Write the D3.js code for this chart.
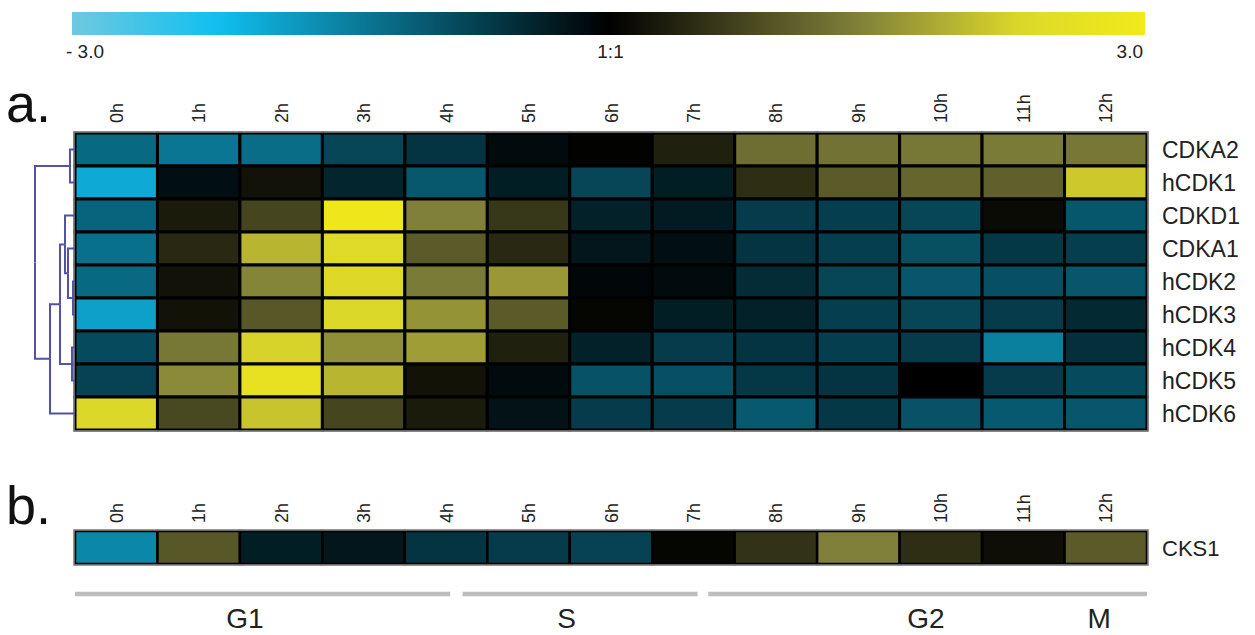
<!DOCTYPE html>
<html>
<head>
<meta charset="utf-8">
<script src="https://cdn.jsdelivr.net/npm/d3@7"></script>
<style>
  html, body { margin: 0; padding: 0; background: #fff; }
  svg { display: block; font-family: "Liberation Sans", Arial, sans-serif; }
</style>
</head>
<body>
<svg id="chart" width="1255" height="635"></svg>
<script>
// Time points (columns) and genes (rows)
const hours = ["0h","1h","2h","3h","4h","5h","6h","7h","8h","9h","10h","11h","12h"];
const genes = ["CDKA2","hCDK1","CDKD1","CDKA1","hCDK2","hCDK3","hCDK4","hCDK5","hCDK6"];

// log-ratio expression per gene, one value per time point
const CDKA2 = [-1.2,-1.35,-1.25,-0.8,-0.6,-0.13,0.02,0.35,1.2,1.25,1.3,1.35,1.3];
const hCDK1 = [-1.95,-0.17,0.2,-0.42,-1.0,-0.34,-0.8,-0.34,0.5,1.0,1.1,1.05,2.15];
const CDKD1 = [-1.15,0.3,0.75,2.9,1.4,0.6,-0.38,-0.3,-0.68,-0.72,-0.8,0.12,-0.98];
const CDKA1 = [-1.28,0.45,1.95,2.4,1.0,0.45,-0.25,-0.17,-0.6,-0.72,-0.9,-0.64,-0.72];
const hCDK2 = [-1.2,0.2,1.45,2.35,1.35,1.65,-0.08,-0.13,-0.5,-0.8,-0.98,-0.9,-0.98];
const hCDK3 = [-1.85,0.2,0.95,2.3,1.6,1.0,0.05,-0.34,-0.38,-0.72,-0.8,-0.68,-0.47];
const hCDK4 = [-0.85,1.3,2.25,1.55,1.7,0.35,-0.38,-0.68,-0.6,-0.72,-0.68,-1.45,-0.55];
const hCDK5 = [-0.76,1.5,2.65,1.95,0.2,-0.13,-0.94,-0.9,-0.64,-0.6,0.0,-0.68,-0.85];
const hCDK6 = [2.3,0.8,2.1,0.75,0.3,-0.21,-0.68,-0.68,-1.02,-0.64,-0.94,-1.02,-0.98];
const seriesA = [CDKA2,hCDK1,CDKD1,CDKA1,hCDK2,hCDK3,hCDK4,hCDK5,hCDK6];

// panel b
const geneB = ["CKS1"];
const CKS1 = [-1.55,0.95,-0.34,-0.25,-0.6,-0.68,-0.76,0.05,0.55,1.4,0.5,0.15,1.0];

// color bar tick labels
const legendTicks = [{v:-3, t:"- 3.0"},{v:0, t:"1:1"},{v:3, t:"3.0"}];

// gene clustering tree (h = linkage distance)
const tree = {h:1.0, children:[
  {h:0.125, children:[{name:"CDKA2"},{name:"hCDK1"}]},
  {h:0.625, children:[
    {h:0.375, children:[
      {h:0.25, children:[
        {name:"CDKD1"},
        {h:0.175, children:[{name:"CDKA1"},{h:0.05, children:[{name:"hCDK2"},{name:"hCDK3"}]}]}
      ]},
      {h:0.075, children:[{name:"hCDK4"},{name:"hCDK5"}]}
    ]},
    {name:"hCDK6"}
  ]}
]};

// cell-cycle phases in column units
const phases = [{s:0, e:4.55}, {s:4.7, e:7.55}, {s:7.68, e:13}];
const phaseLabels = [{p:2.06, t:"G1"},{p:5.96, t:"S"},{p:10.32, t:"G2"},{p:12.42, t:"M"}];

const svg = d3.select("#chart");

const color = d3.scaleLinear()
  .domain([-3, -2.2, 0, 1.4, 2.3, 3])
  .range(["#70c8e0","#10c0f0","#000000","#80803a","#dcd82a","#f2ea1a"])
  .clamp(true);

const x = d3.scaleBand().domain(hours).range([75, 1147]).padding(0);
const xu = d3.scaleLinear().domain([0, 13]).range([75, 1147]);
const y = d3.scaleBand().domain(genes).range([133, 430]).padding(0);

// ---- color bar ----
const lx = d3.scaleLinear().domain([-3, 3]).range([72, 1145]);
const defs = svg.append("defs");
const grad = defs.append("linearGradient").attr("id","cbar").attr("x1","0%").attr("x2","100%");
d3.range(0, 1.0001, 0.02).forEach(t => {
  grad.append("stop").attr("offset", (t*100)+"%").attr("stop-color", color(-3 + 6*t));
});
svg.append("rect").attr("x", lx(-3)).attr("y", 12).attr("width", lx(3)-lx(-3)).attr("height", 23)
  .attr("fill","url(#cbar)");
svg.selectAll(".ltick").data(legendTicks).join("text")
  .attr("x", d => d.v === -3 ? 66 : d.v === 3 ? 1143 : lx(d.v) + 2)
  .attr("y", 58)
  .attr("text-anchor", d => d.v === -3 ? "start" : d.v === 3 ? "end" : "middle")
  .attr("font-size", 19).attr("fill", "#222")
  .text(d => d.t);

// ---- panel letters ----
svg.append("text").attr("x", 6).attr("y", 122).attr("font-size", 54).attr("fill","#111").text("a.");
svg.append("text").attr("x", 6).attr("y", 524).attr("font-size", 54).attr("fill","#111").text("b.");

// ---- column labels ----
function colLabels(yBase) {
  svg.append("g").selectAll("text").data(hours).join("text")
    .attr("transform", d => `translate(${x(d) + x.bandwidth()/2 + 6.5},${yBase}) rotate(-90)`)
    .attr("text-anchor","start")
    .attr("font-size", 18).attr("fill","#222")
    .text(d => d);
}
colLabels(123);
colLabels(523);

// ---- heatmap a ----
const cells = [];
seriesA.forEach((row, i) => row.forEach((v, j) => cells.push({g: genes[i], h: hours[j], v})));
svg.append("g").selectAll("rect").data(cells).join("rect")
  .attr("x", d => x(d.h)).attr("y", d => y(d.g))
  .attr("width", x.bandwidth()).attr("height", y.bandwidth())
  .attr("fill", d => color(d.v))
  .attr("stroke", "#000").attr("stroke-width", 3);
svg.append("rect").attr("x", 74).attr("y", 132).attr("width", 1074).attr("height", 299)
  .attr("fill","none").attr("stroke","#8a8a8a").attr("stroke-width", 1.5);

svg.append("g").selectAll("text").data(genes).join("text")
  .attr("x", 1162).attr("y", d => y(d) + y.bandwidth()/2 + 8.5)
  .attr("font-size", 23).attr("fill","#222")
  .text(d => d);

// ---- dendrogram ----
const dx = d3.scaleLinear().domain([0, 1]).range([75, 35]);
const root = d3.hierarchy(tree);
root.eachAfter(n => {
  if (!n.children) { n.py = y(n.data.name) + y.bandwidth()/2; n.px = dx(0); }
  else { n.py = d3.mean(n.children, c => c.py); n.px = dx(n.data.h); }
});
const links = [];
root.each(n => {
  if (n.children) {
    n.children.forEach(c => links.push(`M${n.px},${n.py}V${c.py}H${c.px}`));
  }
});
svg.append("g").selectAll("path").data(links).join("path")
  .attr("d", d => d).attr("fill","none")
  .attr("stroke","#5252a6").attr("stroke-width", 2);

// ---- panel b ----
const yb = d3.scaleBand().domain(geneB).range([531, 564]);
svg.append("g").selectAll("rect").data(CKS1.map((v, j) => ({h: hours[j], v}))).join("rect")
  .attr("x", d => x(d.h)).attr("y", yb("CKS1"))
  .attr("width", x.bandwidth()).attr("height", yb.bandwidth())
  .attr("fill", d => color(d.v))
  .attr("stroke", "#000").attr("stroke-width", 2.5);
svg.append("rect").attr("x", 74).attr("y", 530).attr("width", 1074).attr("height", 35)
  .attr("fill","none").attr("stroke","#8a8a8a").attr("stroke-width", 1.5);
svg.append("text").attr("x", 1162).attr("y", yb("CKS1") + yb.bandwidth()/2 + 8)
  .attr("font-size", 22).attr("fill","#222").text(geneB[0]);

// ---- phase bars ----
svg.append("g").selectAll("line").data(phases).join("line")
  .attr("x1", d => xu(d.s)).attr("x2", d => xu(d.e))
  .attr("y1", 594).attr("y2", 594)
  .attr("stroke","#bdbdbd").attr("stroke-width", 4.5);
svg.append("g").selectAll("text").data(phaseLabels).join("text")
  .attr("x", d => xu(d.p)).attr("y", 628)
  .attr("text-anchor","middle").attr("font-size", 28).attr("fill","#222")
  .text(d => d.t);
</script>
</body>
</html>
